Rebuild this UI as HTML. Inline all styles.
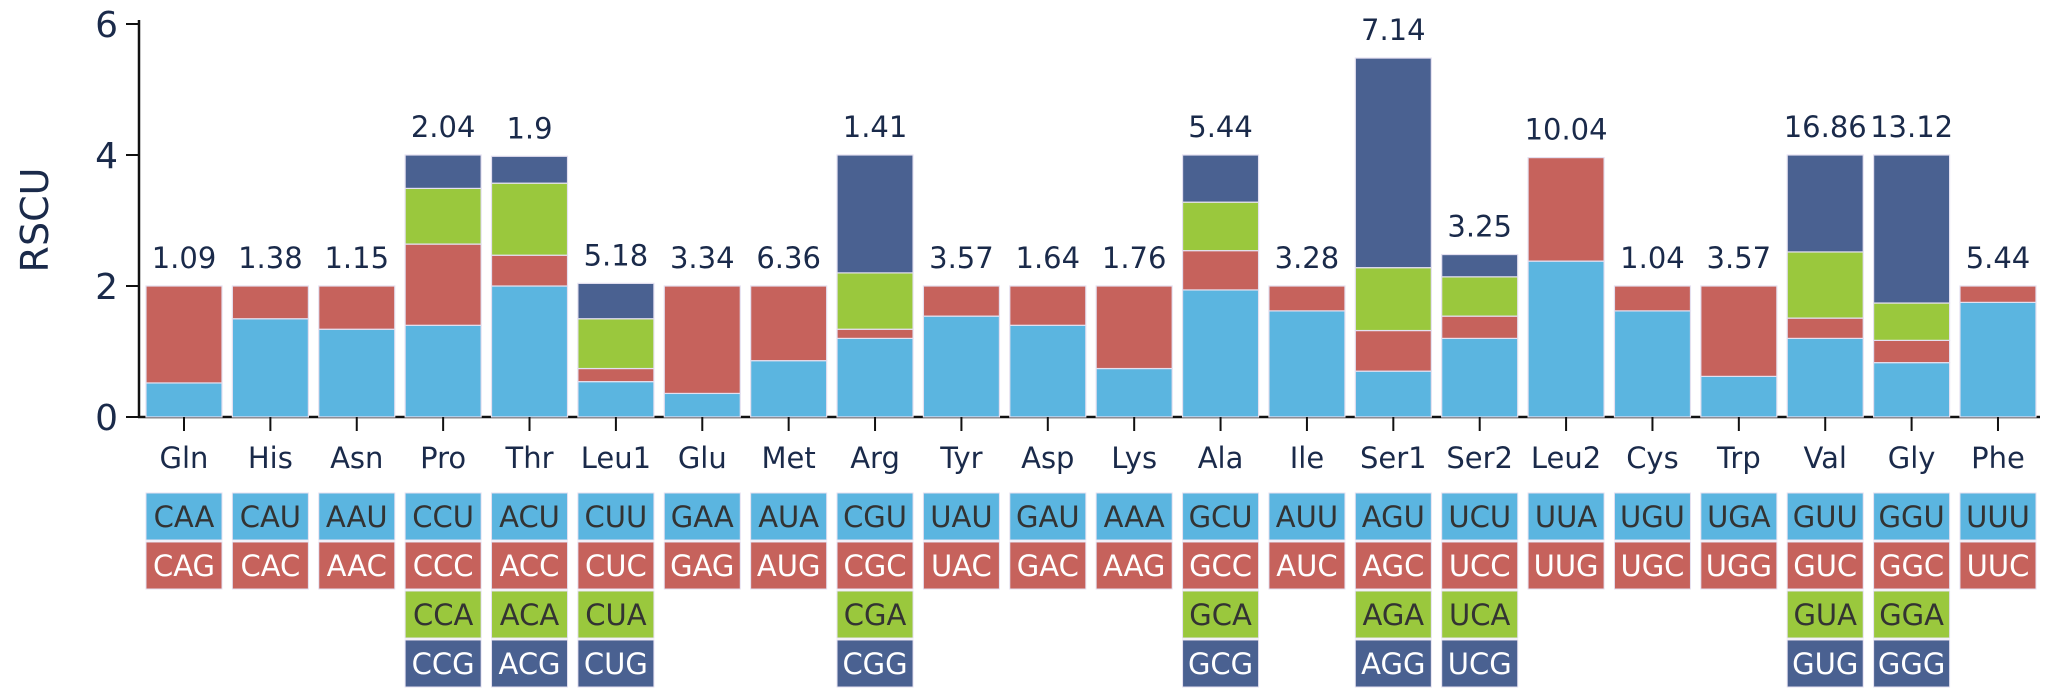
<!DOCTYPE html>
<html><head><meta charset="utf-8"><style>
html,body{margin:0;padding:0;background:#fff;}
svg{display:block;font-family:"DejaVu Sans","Liberation Sans",sans-serif;}
</style></head><body>
<svg id="chart" width="2050" height="698" viewBox="0 0 2050 698" xmlns="http://www.w3.org/2000/svg"></svg>
<script>
const categories = ["Gln","His","Asn","Pro","Thr","Leu1","Glu","Met","Arg","Tyr","Asp","Lys","Ala","Ile","Ser1","Ser2","Leu2","Cys","Trp","Val","Gly","Phe"];
const totals = ["1.09","1.38","1.15","2.04","1.9","5.18","3.34","6.36","1.41","3.57","1.64","1.76","5.44","3.28","7.14","3.25","10.04","1.04","3.57","16.86","13.12","5.44"];
const seg1 = [0.52,1.50,1.34,1.40,2.00,0.54,0.36,0.86,1.20,1.54,1.40,0.74,1.94,1.62,0.70,1.20,2.38,1.62,0.62,1.20,0.83,1.75];
const seg2 = [1.48,0.50,0.66,1.24,0.47,0.20,1.64,1.14,0.14,0.46,0.60,1.26,0.60,0.38,0.62,0.34,1.58,0.38,1.38,0.31,0.34,0.25];
const seg3 = [0,0,0,0.85,1.10,0.76,0,0,0.86,0,0,0,0.74,0,0.96,0.60,0,0,0,1.01,0.57,0];
const seg4 = [0,0,0,0.51,0.41,0.54,0,0,1.80,0,0,0,0.72,0,3.20,0.34,0,0,0,1.48,2.26,0];
const codons = [["CAA","CAG"],["CAU","CAC"],["AAU","AAC"],["CCU","CCC","CCA","CCG"],["ACU","ACC","ACA","ACG"],["CUU","CUC","CUA","CUG"],["GAA","GAG"],["AUA","AUG"],["CGU","CGC","CGA","CGG"],["UAU","UAC"],["GAU","GAC"],["AAA","AAG"],["GCU","GCC","GCA","GCG"],["AUU","AUC"],["AGU","AGC","AGA","AGG"],["UCU","UCC","UCA","UCG"],["UUA","UUG"],["UGU","UGC"],["UGA","UGG"],["GUU","GUC","GUA","GUG"],["GGU","GGC","GGA","GGG"],["UUU","UUC"]];
const yTicks = [0,2,4,6];

const svg = document.getElementById('chart');
const NS = "http://www.w3.org/2000/svg";
const colors = ["#5bb5e0","#c6625c","#9ac83d","#4a6191"];
const codonText = ["#333","#fff","#333","#fff"];
const ink = "#1a2a4a";
const y = v => 417 - 65.5 * v;
const xc = i => 184 + i * 86.38;
const bw = 76;
function mk(tag, attrs, parent){const e=document.createElementNS(NS,tag);for(const k in attrs)e.setAttribute(k,attrs[k]);(parent||svg).appendChild(e);return e;}

const ya = mk('line',{x1:139,y1:20,x2:139,y2:418,stroke:'#111','stroke-width':2.5});


const xa = mk('line',{x1:138,y1:417,x2:2040,y2:417,stroke:'#111','stroke-width':2.5});


yTicks.forEach(t=>{
  const tk = mk('line',{x1:126,y1:y(t),x2:139,y2:y(t),stroke:'#111','stroke-width':2});
  
  
  const tl = mk('text',{x:118,y:y(t)+13,'text-anchor':'end','font-size':36,fill:ink});
  tl.textContent = t;
  
  
});
const yt = mk('text',{x:0,y:0,transform:'translate(48,220) rotate(-90)','text-anchor':'middle','font-size':38,fill:ink});
yt.textContent='RSCU';



const series=[seg1,seg2,seg3,seg4];
categories.forEach((c,i)=>{
  const cx=xc(i), x0=cx-bw/2;
  let acc=0;
  series.forEach((s,k)=>{
    const v=s[i]; if(!v) return;
    const r=mk('rect',{x:x0,y:y(acc+v),width:bw,height:65.5*v,fill:colors[k],stroke:'#e4e0f0','stroke-width':1.2});
    
    
    acc+=v;
  });
  const vl=mk('text',{x:cx,y:y(acc)-18,'text-anchor':'middle','font-size':29,fill:ink});
  vl.textContent=totals[i];
  
  
  const tk=mk('line',{x1:cx,y1:417,x2:cx,y2:431,stroke:'#111','stroke-width':2});
  
  
  const cl=mk('text',{x:cx,y:468,'text-anchor':'middle','font-size':29,fill:ink});
  cl.textContent=c;
  
  
  codons[i].forEach((cd,k)=>{
    const by=493+k*49;
    const b=mk('rect',{x:x0,y:by,width:bw,height:47,fill:colors[k],stroke:'#e4e0f0','stroke-width':1});
    
    
    const t=mk('text',{x:cx,y:by+34,'text-anchor':'middle','font-size':29,fill:codonText[k]});
    t.textContent=cd;
    
    
  });
});
</script>
</body></html>
